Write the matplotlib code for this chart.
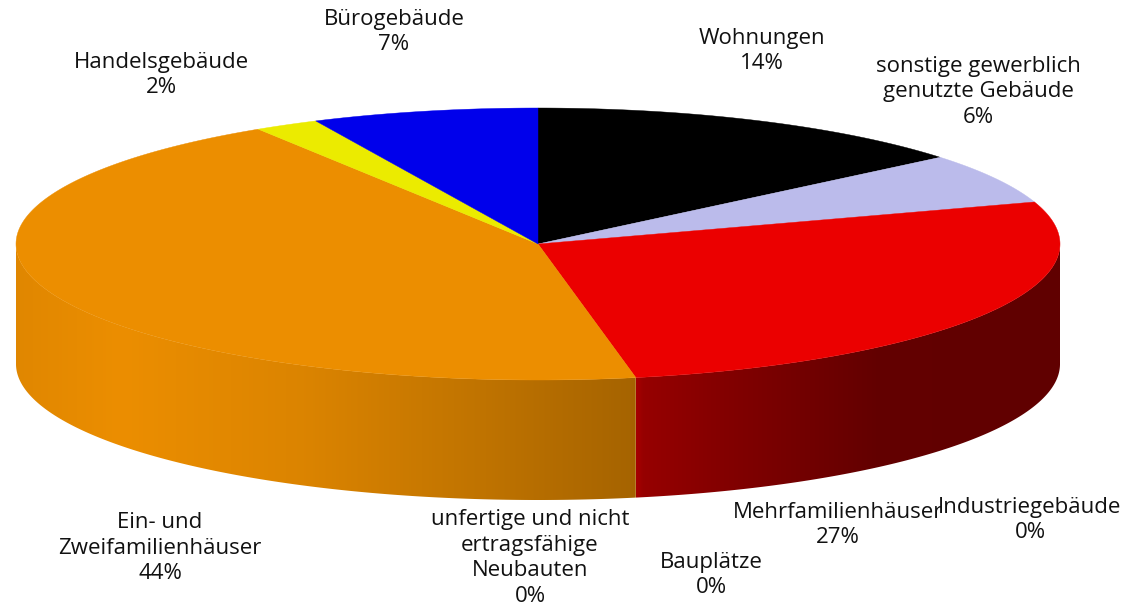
import matplotlib
matplotlib.use("Agg")
import matplotlib.pyplot as plt
import numpy as np
from matplotlib.colors import to_rgb
from matplotlib.patches import Polygon

# Slices in drawing order, clockwise from 12 o'clock
labels = [
    "Wohnungen",
    "sonstige gewerblich\ngenutzte Gebäude",
    "Industriegebäude",
    "Mehrfamilienhäuser",
    "Bauplätze",
    "unfertige und nicht\nertragsfähige\nNeubauten",
    "Ein- und\nZweifamilienhäuser",
    "Handelsgebäude",
    "Bürogebäude",
]
shares = [14, 6, 0, 27, 0, 0, 44, 2, 7]
colors = ["#000000", "#BBBBEB", "#808080", "#EB0000", "#909090",
          "#A0A0A0", "#EC8E00", "#EBEB00", "#0000EB"]

# label centres in pixel coordinates (layout only)
label_pos = [(762, 51), (978, 92), (1030, 520), (838, 525), (711, 575),
             (530, 558), (160, 548), (161, 75), (394, 32)]

W, H = 1126, 606
CX, CY, RX, RY, DEPTH = 538, 244, 522, 136, 120

# brightness of the side wall along the normalised x position
shade_u = [-1.0, -0.8, -0.45, -0.1, 0.19, 0.2, 0.35, 0.65, 1.0]
shade_f = [0.95, 1.0, 0.93, 0.81, 0.70, 0.64, 0.56, 0.42, 0.41]


def rim(t):
    return CX + RX * np.cos(t), CY - RY * np.sin(t)


fig = plt.figure(figsize=(W / 100, H / 100), dpi=100)
ax = fig.add_axes([0, 0, 1, 1])
ax.axis("off")

total = float(sum(shares))
bounds = []
start = np.pi / 2
for s in shares:
    end = start - 2 * np.pi * s / total
    bounds.append((start, end))
    start = end

# side walls (front half only)
for (t1, t2), s, c in zip(bounds, shares, colors):
    if s == 0:
        continue
    lo, hi = max(t2, -np.pi), min(t1, 0.0)
    if hi <= lo:
        continue
    ts = np.linspace(lo, hi, 200)
    x, y = rim(ts)
    pts = np.column_stack([np.r_[x, x[::-1]], np.r_[y, y[::-1] + DEPTH]])
    patch = Polygon(pts, closed=True, facecolor="none", edgecolor="none")
    ax.add_patch(patch)
    x0, x1 = x.min(), x.max()
    xs = np.linspace(x0, x1, 400)
    f = np.interp((xs - CX) / RX, shade_u, shade_f)
    img = np.array(to_rgb(c))[None, None, :] * f[None, :, None]
    img = np.repeat(img, 2, axis=0)
    im = ax.imshow(img, extent=(x0, x1, y.max() + DEPTH, y.min()),
                   aspect="auto", interpolation="bilinear")
    im.set_clip_path(patch)

# top face
for (t1, t2), s, c in zip(bounds, shares, colors):
    if s == 0:
        continue
    ts = np.linspace(t1, t2, 200)
    x, y = rim(ts)
    pts = np.column_stack([np.r_[CX, x], np.r_[CY, y]])
    ax.add_patch(Polygon(pts, closed=True, facecolor=c, edgecolor=c, linewidth=0.3))

for lab, s, (lx, ly) in zip(labels, shares, label_pos):
    ax.text(lx, ly, f"{lab}\n{s}%", ha="center", va="center",
            fontsize=16, family="Open Sans", linespacing=1.3, color="#111111")

ax.set_xlim(0, W)
ax.set_ylim(H, 0)
fig.savefig("out.png", dpi=100)
